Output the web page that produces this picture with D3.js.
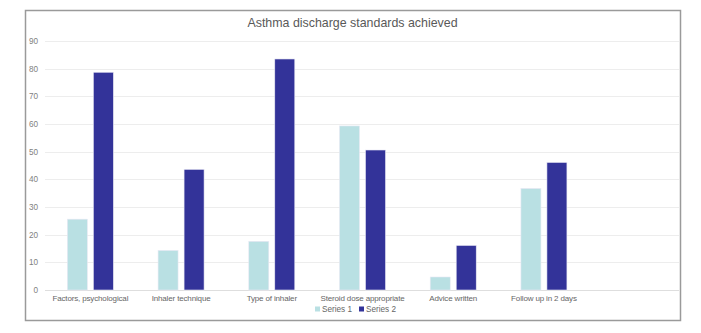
<!DOCTYPE html>
<html>
<head>
<meta charset="utf-8">
<script src="https://cdn.jsdelivr.net/npm/d3@7"></script>
<style>
  html, body { margin: 0; padding: 0; background: #fff; }
  svg { display: block; }
  text { font-family: "Liberation Sans", Arial, sans-serif; }
</style>
</head>
<body>
<svg id="chart" width="701" height="333"></svg>
<script>
// Chart data
const categories = ["Factors, psychological", "Inhaler technique", "Type of inhaler",
  "Steroid dose appropriate", "Advice written", "Follow up in 2 days", ""];
const seriesNames = ["Series 1", "Series 2"];
const series1 = [25.6, 14.3, 17.6, 59.3, 4.7, 36.7, null];
const series2 = [78.7, 43.6, 83.5, 50.6, 16.1, 46.1, null];
const yTicks = [0, 10, 20, 30, 40, 50, 60, 70, 80, 90];
const colors = ["#b9e0e3", "#333399"];
const title = "Asthma discharge standards achieved";

const svg = d3.select("#chart");

// outer chart frame
svg.append("rect")
  .attr("x", 25.5).attr("y", 10.5).attr("width", 655).attr("height", 310)
  .attr("fill", "#fff").attr("stroke", "#9a9a9a").attr("stroke-width", 1.5);

const plot = { left: 45, right: 680, top: 41, bottom: 290 };

const x = d3.scaleBand().domain(categories)
  .range([plot.left, plot.right]).paddingInner(0).paddingOuter(0);
const y = d3.scaleLinear().domain([0, 90]).range([plot.bottom, plot.top]);

// gridlines
svg.append("g").selectAll("line").data(yTicks).join("line")
  .attr("x1", plot.left).attr("x2", plot.right - 1)
  .attr("y1", d => Math.round(y(d)) + 0.5).attr("y2", d => Math.round(y(d)) + 0.5)
  .attr("stroke", d => d === 0 ? "#dedede" : "#ededed").attr("stroke-width", 1);

// y-axis labels
const yAxis = d3.axisLeft(y).tickValues(yTicks).tickSize(0).tickPadding(0);
const gy = svg.append("g").attr("transform", `translate(38,0)`).call(yAxis);
gy.select(".domain").remove();
gy.selectAll("text").attr("fill", "#7f7f7f").attr("font-size", 8.2);

// bars
const barW = 20, gap = 6;
const groupW = barW * 2 + gap;
const data = categories.map((c, i) => ({ c, vals: [series1[i], series2[i]] }));
const g = svg.append("g");
data.forEach(d => {
  const cx = x(d.c) + x.bandwidth() / 2;
  d.vals.forEach((v, k) => {
    if (v == null) return;
    g.append("rect")
      .attr("x", cx - groupW / 2 + k * (barW + gap))
      .attr("y", y(v))
      .attr("width", barW)
      .attr("height", y(0) - y(v))
      .attr("fill", colors[k])
      .attr("stroke", "#e8e8f4").attr("stroke-width", 0.6);
  });
});

// category labels
const xAxis = d3.axisBottom(x).tickSize(0).tickPadding(0);
const gx = svg.append("g").attr("transform", `translate(0,${plot.bottom + 5})`).call(xAxis);
gx.select(".domain").remove();
gx.selectAll("text").attr("fill", "#666").attr("font-size", 8)
  .attr("letter-spacing", -0.15).attr("dy", "0.71em");

// title
svg.append("text")
  .attr("x", 352.5).attr("y", 27)
  .attr("text-anchor", "middle")
  .attr("fill", "#595959").attr("font-size", 12.4)
  .text(title);

// legend
const legend = svg.append("g").attr("transform", "translate(315,309)");
const legX = [0, 44];
seriesNames.forEach((n, k) => {
  legend.append("rect").attr("x", legX[k]).attr("y", -2.5).attr("width", 5).attr("height", 5)
    .attr("fill", colors[k]);
  legend.append("text").attr("x", legX[k] + 7).attr("y", 3.2)
    .attr("fill", "#666").attr("font-size", 8.2).text(n);
});
</script>
</body>
</html>
